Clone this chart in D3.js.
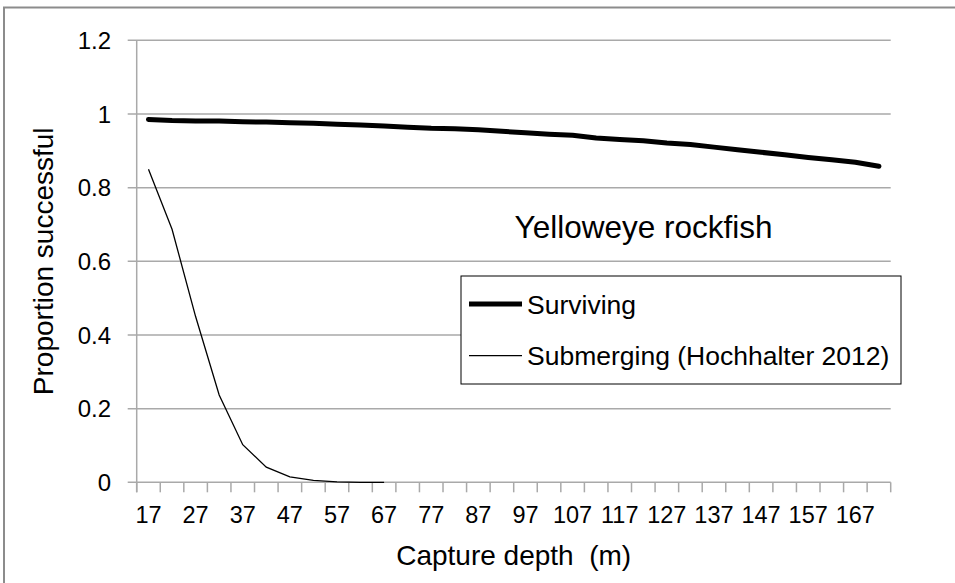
<!DOCTYPE html>
<html><head><meta charset="utf-8">
<script src="https://d3js.org/d3.v7.min.js"></script>
<style>
html,body{margin:0;padding:0;background:#fff;}
svg{display:block;font-family:"Liberation Sans",Arial,sans-serif;}
</style></head>
<body><svg id="c" width="955" height="583"></svg>
<script>
const depths = [17,22,27,32,37,42,47,52,57,62,67,72,77,82,87,92,97,102,107,112,117,122,127,132,137,142,147,152,157,162,167,172];
const surviving = [0.985,0.982,0.981,0.981,0.979,0.978,0.976,0.975,0.972,0.970,0.967,0.964,0.961,0.960,0.957,0.953,0.949,0.945,0.942,0.935,0.931,0.927,0.921,0.917,0.910,0.903,0.896,0.889,0.882,0.876,0.869,0.858];
const submerging = [0.850,0.687,0.450,0.237,0.102,0.041,0.015,0.005,0.001,0.000,0.000];
const yTicks = [0,0.2,0.4,0.6,0.8,1,1.2];
const seriesNames = ["Surviving","Submerging (Hochhalter 2012)"];

(function(){
const svg = d3.select("#c");
const pL = 136.7, pR = 890.7, pT = 40.3, pB = 482.3;
const x = d3.scaleBand().domain(depths).range([pL, pR]);
const y = d3.scaleLinear().domain([0,1.2]).range([pB, pT]);
const cx = d => x(d) + x.bandwidth()/2;
const grey = "#a9a9a9";

// outer chart border
svg.append("rect").attr("x",4).attr("y",7.5).attr("width",960).attr("height",600)
  .attr("fill","none").attr("stroke","#8c8c8c").attr("stroke-width",2);

// gridlines + y ticks
svg.append("g").selectAll("line").data(yTicks).join("line")
  .attr("x1",pL-9).attr("x2",pR).attr("y1",d=>y(d)).attr("y2",d=>y(d))
  .attr("stroke",grey).attr("stroke-width",1.5);
// y axis
svg.append("line").attr("x1",pL).attr("x2",pL).attr("y1",pT).attr("y2",pB+10)
  .attr("stroke",grey).attr("stroke-width",1.5);
// x ticks at band boundaries
const bounds = depths.map(d=>x(d)).concat([pR]);
svg.append("g").selectAll("line").data(bounds).join("line")
  .attr("x1",d=>d).attr("x2",d=>d).attr("y1",pB).attr("y2",pB+10)
  .attr("stroke",grey).attr("stroke-width",1.5);

// y tick labels
svg.append("g").selectAll("text").data(yTicks).join("text")
  .attr("x",111).attr("y",d=>y(d)).attr("dy","0.36em").attr("text-anchor","end")
  .attr("font-size",24).attr("fill","#000").text(d=>d3.format("")(d));
// x tick labels every other
svg.append("g").selectAll("text").data(depths.filter((d,i)=>i%2===0)).join("text")
  .attr("x",d=>cx(d)).attr("y",522.5).attr("text-anchor","middle")
  .attr("font-size",23.5).attr("fill","#000").text(d=>d);

// axis titles
svg.append("text").attr("x",(pL+pR)/2).attr("y",565).attr("text-anchor","middle")
  .attr("font-size",28).attr("xml:space","preserve").style("white-space","pre")
  .text("Capture depth  (m)");
svg.append("text").attr("transform",`translate(53,${(pT+pB)/2}) rotate(-90)`)
  .attr("text-anchor","middle").attr("font-size",28).text("Proportion successful");

// lines
const line = d3.line().x((d,i)=>cx(depths[i])).y(d=>y(d));
svg.append("path").datum(submerging).attr("d",line).attr("fill","none")
  .attr("stroke","#000").attr("stroke-width",1.3);
svg.append("path").datum(surviving).attr("d",line).attr("fill","none")
  .attr("stroke","#000").attr("stroke-width",5).attr("stroke-linecap","round").attr("stroke-linejoin","round");

// annotation
svg.append("text").attr("x",643.5).attr("y",237.7).attr("text-anchor","middle")
  .attr("font-size",31.5).attr("fill","#000").text("Yelloweye rockfish");

// legend
const lg = svg.append("g");
lg.append("rect").attr("x",461).attr("y",276).attr("width",440).attr("height",108)
  .attr("fill","#fff").attr("stroke","#000").attr("stroke-width",1);
const ly = [304, 355.7], lw = [5, 1.3];
seriesNames.forEach((n,i)=>{
  lg.append("line").attr("x1",469).attr("x2",522).attr("y1",ly[i]).attr("y2",ly[i])
    .attr("stroke","#000").attr("stroke-width",lw[i]);
  lg.append("text").attr("x",527).attr("y",ly[i]).attr("dy","0.36em")
    .attr("font-size",26.5).attr("fill","#000").text(n);
});
})();
</script></body></html>
